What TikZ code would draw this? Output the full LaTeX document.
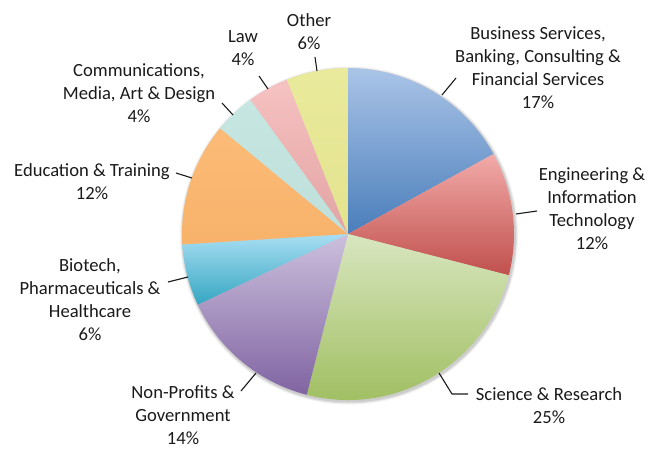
\documentclass[tikz,border=0pt]{standalone}
\usepackage{fontspec}
\setmainfont{Carlito}
\definecolor{txt}{HTML}{1A1A1A}
\begin{document}
\begin{tikzpicture}[x=1pt,y=1pt,
  lbl/.style={align=center,inner sep=0pt,text=txt,font=\fontsize{18.6}{23}\selectfont},
  leader/.style={draw=txt,line width=1.1pt}]
\useasboundingbox (0,0) rectangle (649,448);
\coordinate (c) at (348,214);
\def\R{166}
% soft shadow
\foreach \d/\o in {3/0.05,2/0.07,1/0.09}{
  \fill[black,opacity=\o] (349,212.5) circle[radius=\R+\d];
}
% slices
\newcommand{\slice}[4]{%
  \shade[top color=#3,bottom color=#4] (c) -- ++(#1:\R) arc[start angle=#1,end angle=#2,radius=\R] -- cycle;}
\definecolor{bT}{HTML}{AAC4E7}\definecolor{bB}{HTML}{4A7EBB}
\definecolor{eT}{HTML}{F2ABA9}\definecolor{eB}{HTML}{C0504D}
\definecolor{sT}{HTML}{D8E6BF}\definecolor{sB}{HTML}{9BBB59}
\definecolor{nT}{HTML}{CCC0DD}\definecolor{nB}{HTML}{8064A2}
\definecolor{hT}{HTML}{A8DEF2}\definecolor{hB}{HTML}{35A6C2}
\definecolor{oT}{HTML}{FBBB77}\definecolor{oB}{HTML}{F8B26A}
\definecolor{cT}{HTML}{C6E6E1}\definecolor{cB}{HTML}{BEDFDA}
\definecolor{lT}{HTML}{F7C2C2}\definecolor{lB}{HTML}{E2A3A3}
\definecolor{yT}{HTML}{E9EA9B}\definecolor{yB}{HTML}{E3E38F}
\slice{90}{28.8}{bT}{bB}
\slice{28.8}{-14.4}{eT}{eB}
\slice{-14.4}{-104.4}{sT}{sB}
\slice{-104.4}{-154.8}{nT}{nB}
\slice{-154.8}{-176.4}{hT}{hB}
\slice{-176.4}{-219.6}{oT}{oB}
\slice{140.4}{126}{cT}{cB}
\slice{126}{111.6}{lT}{lB}
\slice{111.6}{90}{yT}{yB}
% labels
\node[lbl] (business) at (538,380) {Business Services,\\Banking, Consulting \&\\Financial Services\\17\%};
\node[lbl] (engineering) at (592,239.5) {Engineering \&\\Information\\Technology\\12\%};
\node[lbl] (science) at (549,42.5) {Science \& Research\\25\%};
\node[lbl] (nonprofit) at (183,32.5) {Non-Profits \&\\Government\\14\%};
\node[lbl] (biotech) at (90,148.5) {Biotech,\\Pharmaceuticals \&\\Healthcare\\6\%};
\node[lbl] (education) at (92,266.5) {Education \& Training\\12\%};
\node[lbl] (comm) at (139,355) {Communications,\\Media, Art \& Design\\4\%};
\node[lbl] (law) at (243,399.5) {Law\\4\%};
\node[lbl] (other) at (309,416.5) {Other\\6\%};
% leader lines
\coordinate (b1) at (442,353); \coordinate (b2) at (456,370);
\coordinate (e1) at (516,234); \coordinate (e2) at (537,237);
\coordinate (s1) at (439,75); \coordinate (s2) at (452,54); \coordinate (s3) at (468,54);
\coordinate (n1) at (256,75); \coordinate (n2) at (241,57);
\coordinate (h1) at (188,171); \coordinate (h2) at (168,166);
\coordinate (d1) at (192,270); \coordinate (d2) at (176,275);
\coordinate (m1) at (233,333); \coordinate (m2) at (222,345);
\coordinate (l1) at (268,359); \coordinate (l2) at (259,372);
\coordinate (o1) at (317,377); \coordinate (o2) at (315,391);
\draw[leader] (b1) -- (b2);
\draw[leader] (e1) -- (e2);
\draw[leader] (s1) -- (s2) -- (s3);
\draw[leader] (n1) -- (n2);
\draw[leader] (h1) -- (h2);
\draw[leader] (d1) -- (d2);
\draw[leader] (m1) -- (m2);
\draw[leader] (l1) -- (l2);
\draw[leader] (o1) -- (o2);
\end{tikzpicture}
\end{document}
